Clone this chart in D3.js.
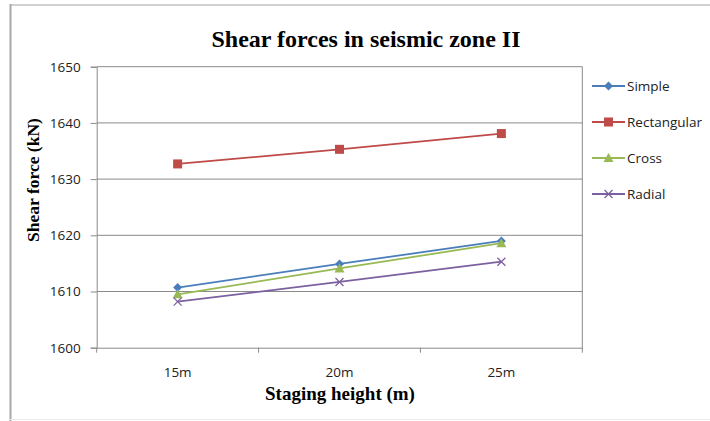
<!DOCTYPE html>
<html>
<head>
<meta charset="utf-8">
<script src="https://cdn.jsdelivr.net/npm/d3@7"></script>
<style>
  body { margin: 0; background: #fff; }
  svg { display: block; }
</style>
</head>
<body>
<svg id="chart"></svg>
<script>
const width = 710;
const height = 421;

// data
const heights = ['15m', '20m', '25m'];
const seriesNames = ['Simple', 'Rectangular', 'Cross', 'Radial'];
const simple = [1610.7, 1614.9, 1619.0];
const rectangular = [1632.7, 1635.3, 1638.1];
const cross = [1609.5, 1614.1, 1618.6];
const radial = [1608.2, 1611.7, 1615.3];
const yTicks = [1600, 1610, 1620, 1630, 1640, 1650];

const colors = ['#4a7ebb', '#be4b48', '#98b954', '#7d60a0'];
const shapes = ['diamond', 'square', 'triangle', 'cross'];
const series = [simple, rectangular, cross, radial];

const svg = d3.select('#chart')
    .attr('width', width)
    .attr('height', height);

// outer frame of the chart
svg.append('line').attr('x1', 10).attr('x2', 710).attr('y1', 5).attr('y2', 5)
    .attr('stroke', '#d0d0d0').attr('stroke-width', 2);
svg.append('line').attr('x1', 10.5).attr('x2', 10.5).attr('y1', 4).attr('y2', 421)
    .attr('stroke', '#a8a8a8').attr('stroke-width', 2);
svg.append('line').attr('x1', 10).attr('x2', 710).attr('y1', 419.5).attr('y2', 419.5)
    .attr('stroke', '#ececec').attr('stroke-width', 1);

const plot = {left: 96.7, right: 582.3, top: 66.7, bottom: 347.7};

const x = d3.scaleBand()
    .domain(heights)
    .range([plot.left, plot.right]);

const y = d3.scaleLinear()
    .domain([1600, 1650])
    .range([plot.bottom, plot.top]);

// gridlines
svg.append('g')
    .selectAll('line')
    .data(yTicks.slice(1))
    .enter()
    .append('line')
    .attr('x1', plot.left)
    .attr('x2', plot.right)
    .attr('y1', d => y(d))
    .attr('y2', d => y(d))
    .attr('stroke', '#8a8a8a')
    .attr('stroke-width', 1);

// right border of plot
svg.append('line')
    .attr('x1', plot.right).attr('x2', plot.right)
    .attr('y1', plot.top).attr('y2', plot.bottom)
    .attr('stroke', '#8a8a8a');

// y axis
const yAxis = svg.append('g')
    .attr('transform', `translate(${plot.left},0)`)
    .call(d3.axisLeft(y).tickValues(yTicks).tickFormat(d3.format('d')).tickSize(6).tickPadding(10));
yAxis.select('.domain').attr('stroke', '#8a8a8a');
yAxis.selectAll('.tick line').attr('stroke', '#8a8a8a');
yAxis.selectAll('text')
    .attr('font-family', 'Open Sans, sans-serif')
    .attr('font-size', 13.5)
    .attr('fill', '#222');

// x axis with ticks between categories
const xAxis = svg.append('g')
    .attr('transform', `translate(0,${plot.bottom})`)
    .call(d3.axisBottom(x).tickSize(0).tickPadding(20));
xAxis.select('.domain').attr('stroke', '#8a8a8a');
xAxis.selectAll('text')
    .attr('font-family', 'Open Sans, sans-serif')
    .attr('font-size', 13.5)
    .attr('fill', '#222');
svg.append('g')
    .selectAll('line')
    .data([0, 1, 2, 3])
    .enter()
    .append('line')
    .attr('x1', i => plot.left + i * x.bandwidth())
    .attr('x2', i => plot.left + i * x.bandwidth())
    .attr('y1', plot.bottom)
    .attr('y2', plot.bottom + 5)
    .attr('stroke', '#8a8a8a');

const cx = d => x(d) + x.bandwidth() / 2;

function marker(g, shape, color) {
    if (shape === 'diamond') {
        g.append('path').attr('d', 'M0,-4.5L4.5,0L0,4.5L-4.5,0Z').attr('fill', color);
    } else if (shape === 'square') {
        g.append('rect').attr('x', -4.5).attr('y', -4.5).attr('width', 9).attr('height', 9).attr('fill', color);
    } else if (shape === 'triangle') {
        g.append('path').attr('d', 'M0,-5L5,4L-5,4Z').attr('fill', color);
    } else {
        g.append('path').attr('d', 'M-4,-4L4,4M-4,4L4,-4').attr('stroke', color).attr('stroke-width', 1.3);
    }
}

const line = d3.line()
    .x((d, i) => cx(heights[i]))
    .y(d => y(d));

series.forEach(function(values, s) {
    svg.append('path')
        .datum(values)
        .attr('d', line)
        .attr('fill', 'none')
        .attr('stroke', colors[s])
        .attr('stroke-width', 1.8);
    values.forEach(function(v, i) {
        const g = svg.append('g')
            .attr('transform', `translate(${cx(heights[i])},${y(v)})`);
        marker(g, shapes[s], colors[s]);
    });
});

// legend
const legend = svg.append('g');
seriesNames.forEach(function(name, s) {
    const ly = 86 + s * 36;
    legend.append('line')
        .attr('x1', 592).attr('x2', 625)
        .attr('y1', ly).attr('y2', ly)
        .attr('stroke', colors[s])
        .attr('stroke-width', 1.8);
    const g = legend.append('g').attr('transform', `translate(608.5,${ly})`);
    marker(g, shapes[s], colors[s]);
    legend.append('text')
        .attr('x', 627)
        .attr('y', ly + 5)
        .attr('font-family', 'Open Sans, sans-serif')
        .attr('font-size', 13.5)
        .attr('fill', '#222')
        .text(name);
});

// titles
svg.append('text')
    .attr('x', 366)
    .attr('y', 47)
    .attr('text-anchor', 'middle')
    .attr('font-family', 'Liberation Serif, Times New Roman, serif')
    .attr('font-weight', 'bold')
    .attr('font-size', 24)
    .text('Shear forces in seismic zone II');

svg.append('text')
    .attr('x', 340)
    .attr('y', 400)
    .attr('text-anchor', 'middle')
    .attr('font-family', 'Liberation Serif, Times New Roman, serif')
    .attr('font-weight', 'bold')
    .attr('font-size', 19)
    .text('Staging height (m)');

svg.append('text')
    .attr('transform', 'translate(39,180) rotate(-90)')
    .attr('text-anchor', 'middle')
    .attr('font-family', 'Liberation Serif, Times New Roman, serif')
    .attr('font-weight', 'bold')
    .attr('font-size', 17.5)
    .text('Shear force (kN)');
</script>
</body>
</html>
